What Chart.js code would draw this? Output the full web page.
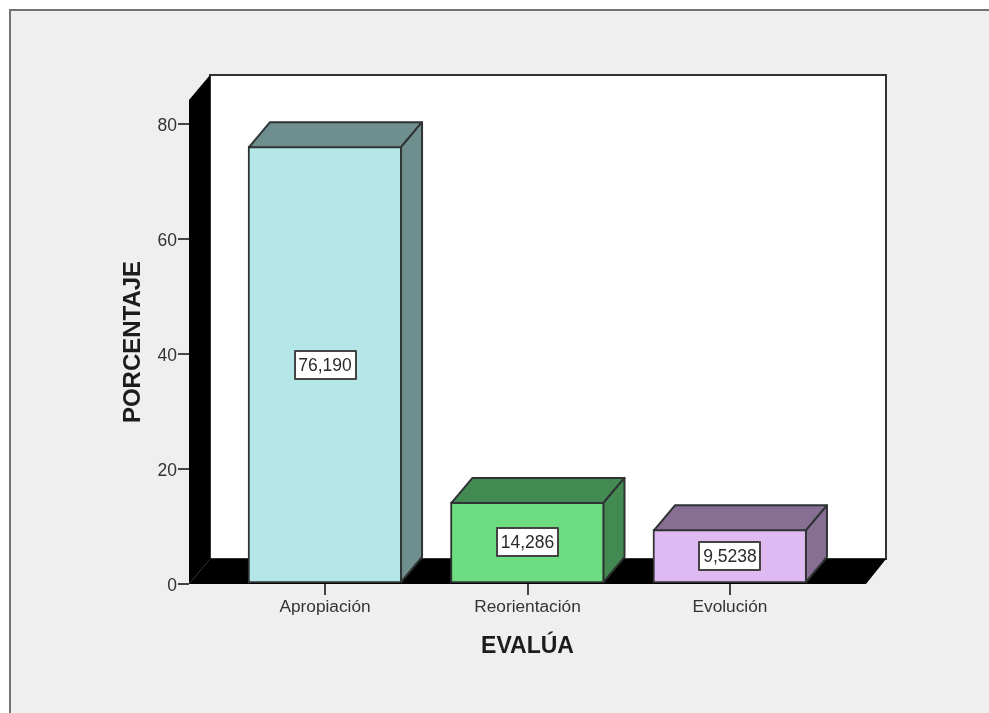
<!DOCTYPE html>
<html>
<head>
<meta charset="utf-8">
<title>EVALÚA</title>
<script src="https://cdn.jsdelivr.net/npm/chart.js@4"></script>
<style>
    html, body { margin: 0; height: 100%; background: #fff; overflow: hidden; }
    #panel {
        position: absolute; left: 9px; top: 9px; right: 0; bottom: 0;
        background: #efefef;
        border-top: 2px solid #727272;
        border-left: 2px solid #727272;
    }
    #myChart { position: absolute; left: 0; top: 0; }
</style>
</head>
<body>
<div id="panel"></div>
<canvas id="myChart" width="989" height="713"></canvas>
<script>
var categories = ['Apropiación', 'Reorientación', 'Evolución'];
var values = [76.190, 14.286, 9.5238];
var valueLabels = ['76,190', '14,286', '9,5238'];
var yTicks = [0, 20, 40, 60, 80];

var frontColors = ['#b5e7e8', '#6edd82', '#dfb9f2'];
var shadeColors = ['#6f8e8e', '#438a52', '#876f93'];

// depth of the fake 3D box, in pixels
var DEPTH_X = 21;
var DEPTH_Y = 25;
var EDGE = '#2f3333';
var FONT = '"Liberation Sans", Arial, sans-serif';

function poly(ctx, pts, fill, stroke) {
    ctx.beginPath();
    ctx.moveTo(pts[0][0], pts[0][1]);
    for (var i = 1; i < pts.length; i++) {
        ctx.lineTo(pts[i][0], pts[i][1]);
    }
    ctx.closePath();
    ctx.fillStyle = fill;
    ctx.fill();
    if (stroke) {
        ctx.lineWidth = 2;
        ctx.strokeStyle = stroke;
        ctx.stroke();
    }
}

// back wall, left wall and floor behind the bars
var wallsPlugin = {
    id: 'walls',
    beforeDraw: function (chart) {
        var ctx = chart.ctx;
        var a = chart.chartArea;
        ctx.save();
        poly(ctx, [[a.left + DEPTH_X, a.top - DEPTH_Y], [a.right + DEPTH_X - 1, a.top - DEPTH_Y],
            [a.right + DEPTH_X - 1, a.bottom - DEPTH_Y], [a.left + DEPTH_X, a.bottom - DEPTH_Y]], '#fff', EDGE);
        poly(ctx, [[a.left, a.top], [a.left + DEPTH_X, a.top - DEPTH_Y],
            [a.left + DEPTH_X, a.bottom - DEPTH_Y], [a.left, a.bottom]], '#000');
        poly(ctx, [[a.left, a.bottom], [a.left + DEPTH_X, a.bottom - DEPTH_Y],
            [a.right + DEPTH_X - 1, a.bottom - DEPTH_Y], [a.right, a.bottom]], '#000');
        ctx.restore();
    }
};

// top and side faces of each bar, then the white value boxes
var boxPlugin = {
    id: 'box',
    afterDatasetsDraw: function (chart) {
        var ctx = chart.ctx;
        var bars = chart.getDatasetMeta(0).data;
        ctx.save();
        ctx.lineJoin = 'round';
        bars.forEach(function (bar, i) {
            var l = bar.x - bar.width / 2 + 1;
            var r = bar.x + bar.width / 2 - 1;
            var t = bar.y + 1;
            var b = bar.base - 1;
            poly(ctx, [[l, t], [l + DEPTH_X, t - DEPTH_Y], [r + DEPTH_X, t - DEPTH_Y], [r, t]], shadeColors[i], EDGE);
            poly(ctx, [[r, t], [r + DEPTH_X, t - DEPTH_Y], [r + DEPTH_X, b - DEPTH_Y], [r, b]], shadeColors[i], EDGE);
        });

        ctx.font = '17.5px ' + FONT;
        ctx.textAlign = 'center';
        ctx.textBaseline = 'middle';
        bars.forEach(function (bar, i) {
            var w = Math.round(ctx.measureText(valueLabels[i]).width) + 7;
            var h = 28;
            var cy = Math.round((bar.y + bar.base) / 2);
            var x = Math.round(bar.x - w / 2);
            var y = cy - h / 2;
            ctx.fillStyle = '#fff';
            ctx.fillRect(x, y, w, h);
            ctx.lineWidth = 2;
            ctx.strokeStyle = '#444';
            ctx.strokeRect(x, y, w, h);
            ctx.fillStyle = '#2a2a2a';
            ctx.fillText(valueLabels[i], bar.x, cy + 1);
        });
        ctx.restore();
    }
};

var ctx = document.getElementById('myChart').getContext('2d');

var chart = new Chart(ctx, {
    type: 'bar',
    data: {
        datasets: [{
            data: values.map(function (v, i) { return { x: i, y: v }; }),
            backgroundColor: frontColors,
            borderColor: EDGE,
            borderWidth: 2,
            borderSkipped: false,
            barThickness: 154
        }]
    },
    plugins: [wallsPlugin, boxPlugin],
    options: {
        responsive: false,
        animation: false,
        layout: {
            padding: { left: 10, top: 100, right: 123, bottom: 53 }
        },
        plugins: {
            legend: { display: false },
            tooltip: { enabled: false }
        },
        scales: {
            x: {
                type: 'linear',
                offset: false,
                min: -0.672,
                max: 2.672,
                afterBuildTicks: function (scale) {
                    scale.ticks = categories.map(function (c, i) { return { value: i }; });
                },
                afterFit: function (scale) { scale.height = 76; },
                border: { display: false },
                grid: { offset: false, drawOnChartArea: false, color: '#444', lineWidth: 2, tickLength: 11 },
                ticks: {
                    callback: function (value) { return categories[value]; },
                    color: '#333',
                    font: { family: FONT, size: 17.3 },
                    maxRotation: 0,
                    padding: 2
                },
                title: {
                    display: true,
                    text: 'EVALÚA',
                    color: '#1c1c1c',
                    font: { family: FONT, size: 23, weight: 'bold' },
                    padding: { top: 12, bottom: 0 }
                }
            },
            y: {
                min: 0,
                max: 84.23,
                afterBuildTicks: function (scale) {
                    scale.ticks = yTicks.map(function (v) { return { value: v }; });
                },
                afterFit: function (scale) { scale.width = 179; },
                border: { display: false },
                grid: { drawOnChartArea: false, color: '#444', lineWidth: 2, tickLength: 11 },
                ticks: {
                    color: '#333',
                    font: { family: FONT, size: 17.5 },
                    padding: 1,
                    labelOffset: 2
                },
                title: {
                    display: true,
                    text: 'PORCENTAJE',
                    color: '#1c1c1c',
                    font: { family: FONT, size: 24, weight: 'bold' },
                    padding: { top: 109, bottom: 0 }
                }
            }
        }
    }
});
</script>
</body>
</html>
